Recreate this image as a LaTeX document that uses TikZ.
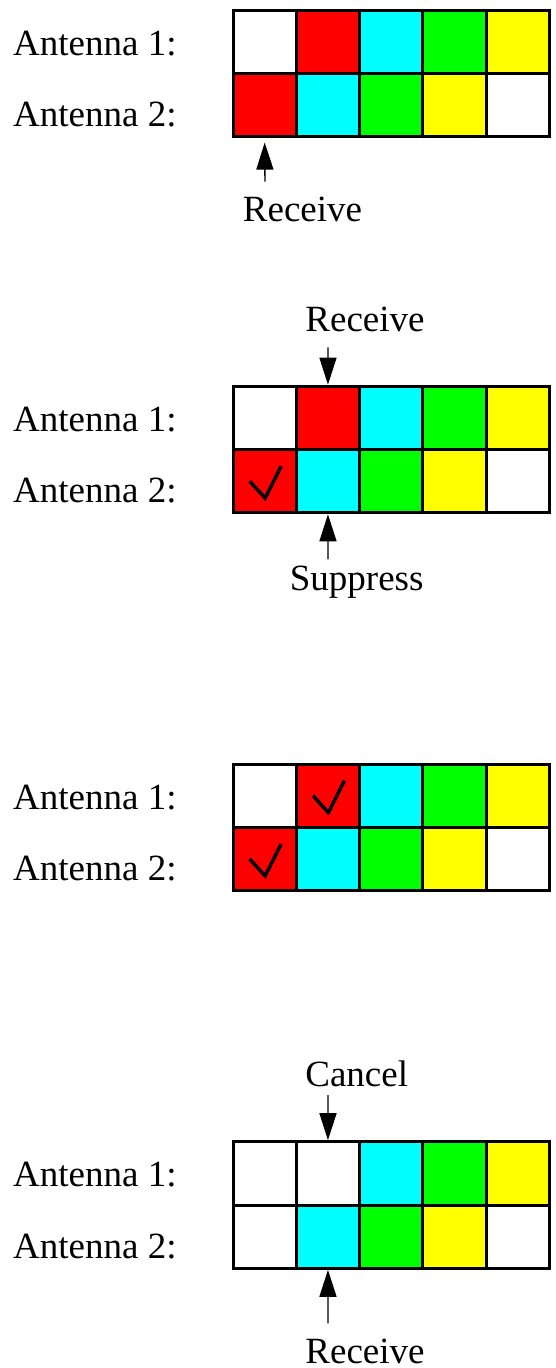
\documentclass[tikz,border=0pt]{standalone}
\usepackage{fontspec}
\setmainfont{Liberation Serif}
\usetikzlibrary{arrows.meta}
\definecolor{cR}{RGB}{255,0,0}
\definecolor{cC}{RGB}{0,255,255}
\definecolor{cG}{RGB}{0,255,0}
\definecolor{cY}{RGB}{255,255,0}
\definecolor{cW}{RGB}{255,255,255}
\tikzset{
  cell/.style={draw=black, line width=3pt, minimum width=63.3pt, minimum height=63.3pt, inner sep=0pt, outer sep=0pt},
  lbl/.style={font=\fontsize{37}{40}\selectfont, inner sep=0pt, anchor=base west},
  captxt/.style={font=\fontsize{37}{40}\selectfont, inner sep=0pt, anchor=base},
  arr/.style={line width=1.4pt, -{Triangle[length=27pt,width=17pt]}},
  checkmk/.style={line width=3.5pt, line cap=butt, line join=miter},
}
\begin{document}
\begin{tikzpicture}[x=1pt,y=-1pt]
\useasboundingbox (0,0) rectangle (555,1368);
\foreach \p/\t/\ra/\rb in {
  a/10/{cW,cR,cC,cG,cY}/{cR,cC,cG,cY,cW},
  b/386.2/{cW,cR,cC,cG,cY}/{cR,cC,cG,cY,cW},
  c/764/{cW,cR,cC,cG,cY}/{cR,cC,cG,cY,cW},
  d/1141.7/{cW,cW,cC,cG,cY}/{cW,cC,cG,cY,cW}}{
  \foreach \c [count=\i] in \ra {
    \node[cell, fill=\c] (\p-1-\i) at ({233+63.3*(\i-0.5)},{\t+31.65}) {};
  }
  \foreach \c [count=\i] in \rb {
    \node[cell, fill=\c] (\p-2-\i) at ({233+63.3*(\i-0.5)},{\t+94.95}) {};
  }
  \node[lbl] (\p-lab1) at (13,{\t+45}) {Antenna 1:};
  \node[lbl] (\p-lab2) at (13,{\t+116.7}) {Antenna 2:};
}
% redraw grid outline on top so borders are uniform
\foreach \p in {a,b,c,d}{
  \draw[line width=3pt] (\p-1-1.north west) rectangle (\p-2-5.south east);
}
% panel 1
\node[captxt] (a-recv) at (302.5,221.7) {Receive};
\coordinate (a-rb) at (265,181.7);
\draw[arr] (a-rb) -- ([yshift=-6pt]a-2-1.south);
% panel 2
\node[captxt] (b-recv) at (365,331.7) {Receive};
\coordinate (b-rt) at (328,347.3);
\draw[arr] (b-rt) -- ([yshift=1.5pt]b-1-2.north);
\node[captxt] (b-supp) at (356.7,590) {Suppress};
\coordinate (b-sb) at (328,559.3);
\draw[arr] (b-sb) -- ([yshift=-1.5pt]b-2-2.south);
\draw[checkmk] ([shift={(-15,0)}]b-2-1.center) -- ([shift={(0.5,17)}]b-2-1.center) -- ([shift={(16.5,-15)}]b-2-1.center);
% panel 3
\draw[checkmk] ([shift={(-15,0)}]c-1-2.center) -- ([shift={(0.5,17)}]c-1-2.center) -- ([shift={(16.5,-15)}]c-1-2.center);
\draw[checkmk] ([shift={(-15,0)}]c-2-1.center) -- ([shift={(0.5,17)}]c-2-1.center) -- ([shift={(16.5,-15)}]c-2-1.center);
% panel 4
\node[captxt] (d-canc) at (356.7,1086.7) {Cancel};
\coordinate (d-ct) at (328,1095);
\draw[arr] (d-ct) -- ([yshift=1.5pt]d-1-2.north);
\node[captxt] (d-recv) at (365,1363.5) {Receive};
\coordinate (d-rb) at (328,1323.3);
\draw[arr] (d-rb) -- ([yshift=-1.5pt]d-2-2.south);
\end{tikzpicture}
\end{document}
